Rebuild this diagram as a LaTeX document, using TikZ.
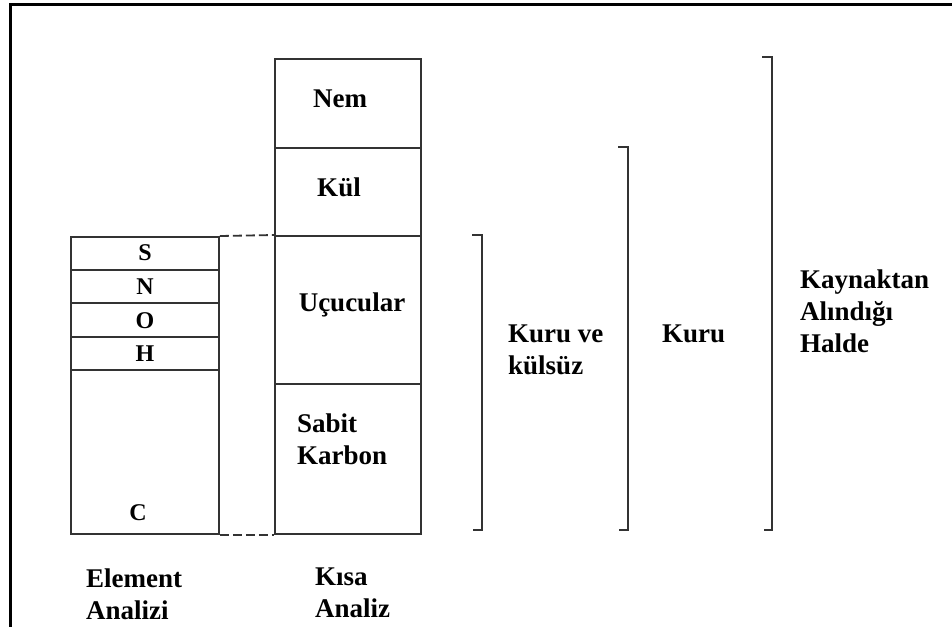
\documentclass[tikz,border=0pt]{standalone}
\usepackage{fontspec}
\setmainfont{Liberation Serif}
\begin{document}
\begin{tikzpicture}[x=1pt,y=-1pt,
  cell/.style={draw=black!80, line width=1.8pt, rectangle, inner sep=0pt, anchor=north west},
  lbl/.style={font=\fontsize{27}{32}\selectfont\bfseries, inner sep=0pt, align=left},
  elbl/.style={font=\fontsize{24}{28}\selectfont\bfseries, inner sep=0pt},
  dashline/.style={draw=black!80, line width=1.8pt, dash pattern=on 9pt off 4pt},
  bracket/.style={draw=black!80, line width=1.8pt},
  frame/.style={draw=black, line width=3pt}]
\useasboundingbox (0,0) rectangle (952,627);
% frame (top and left edges)
\draw[frame] (952,4) -- (10,4) -- (10,627);
% left column: element analysis
\node[cell, minimum width=148pt, minimum height=33pt] (S) at (70,236) {};
\node[cell, minimum width=148pt, minimum height=33pt] (N) at (70,269) {};
\node[cell, minimum width=148pt, minimum height=34pt] (O) at (70,302) {};
\node[cell, minimum width=148pt, minimum height=33pt] (H) at (70,336) {};
\node[cell, minimum width=148pt, minimum height=164pt] (C) at (70,369) {};
\node[elbl] (tS) at (145,253) {S};
\node[elbl] (tN) at (145,287) {N};
\node[elbl] (tO) at (145,321) {O};
\node[elbl] (tH) at (145,354) {H};
\node[elbl] (tC) at (138,513) {C};
% right column: proximate analysis
\node[cell, minimum width=146pt, minimum height=89pt] (nem) at (274,58) {};
\node[cell, minimum width=146pt, minimum height=88pt] (kul) at (274,147) {};
\node[cell, minimum width=146pt, minimum height=148pt] (ucu) at (274,235) {};
\node[cell, minimum width=146pt, minimum height=150pt] (sabit) at (274,383) {};
\node[lbl] (tnem) at (340,99) {Nem};
\node[lbl] (tkul) at (339,187) {Kül};
\node[lbl] (tucu) at (352,305) {Uçucular};
\node[lbl, anchor=west] (tsabit) at (297,439) {Sabit\\Karbon};
% dashed connectors
\draw[dashline] (S.north east) -- (ucu.north west);
\draw[dashline] (C.south east) -- (sabit.south west);
% brackets
\draw[bracket] (472,235) -- (482,235) -- (482,530) -- (473,530);
\draw[bracket] (618,147) -- (628,147) -- (628,530) -- (619,530);
\draw[bracket] (762,57) -- (772,57) -- (772,530) -- (764,530);
\node[lbl, anchor=west] (tkk) at (508,350) {Kuru ve\\külsüz};
\node[lbl, anchor=west] (tkuru) at (662,334) {Kuru};
\node[lbl, anchor=west] (tkay) at (800,311) {Kaynaktan\\Alındığı\\Halde};
% bottom captions
\node[lbl, anchor=west] (tel) at (86,594) {Element\\Analizi};
\node[lbl, anchor=west] (tks) at (315,593) {Kısa\\Analiz};
\end{tikzpicture}
\end{document}
